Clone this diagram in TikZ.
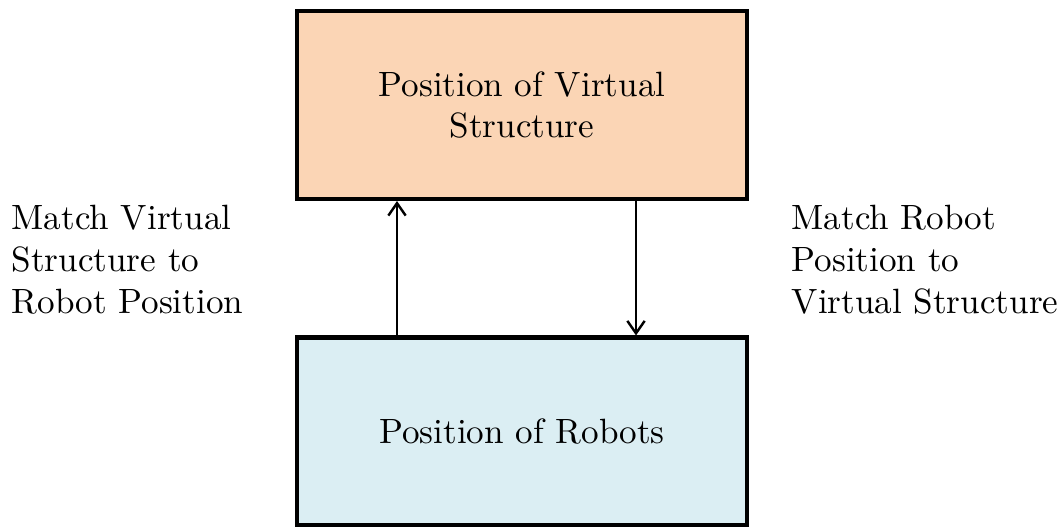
\documentclass[tikz,border=0pt]{standalone}
\usetikzlibrary{arrows.meta}
\definecolor{peach}{HTML}{FBD5B5}
\definecolor{paleblue}{HTML}{DBEEF3}
\begin{document}
\begin{tikzpicture}[x=0.289pt,y=-0.289pt,
  every node/.style={font=\fontsize{10.15pt}{12.1pt}\selectfont},
  blockbox/.style={draw=black,line width=1.3pt,minimum width=130pt,minimum height=54.2pt,inner sep=0pt,align=center},
  flow/.style={line width=0.7pt,-{Straight Barb[length=3.6pt,width=5pt]}},
  sidenote/.style={align=left,inner sep=0pt,anchor=west}]
  \useasboundingbox (0,0) rectangle (1063,527);
  \node[blockbox,fill=peach] (vs) at (522,105) {Position of Virtual\\Structure};
  \node[blockbox,fill=paleblue] (rb) at (522,431.5) {Position of Robots};
  \coordinate (upx) at (397,0);
  \coordinate (downx) at (636,0);
  \draw[flow] (upx |- rb.north) -- (upx |- vs.south);
  \draw[flow] (downx |- vs.south) -- (downx |- rb.north);
  \node[sidenote] (lefttext) at (11,260) {Match Virtual\\Structure to\\Robot Position};
  \node[sidenote] (righttext) at (791,260) {Match Robot\\Position to\\Virtual Structure};
\end{tikzpicture}
\end{document}
